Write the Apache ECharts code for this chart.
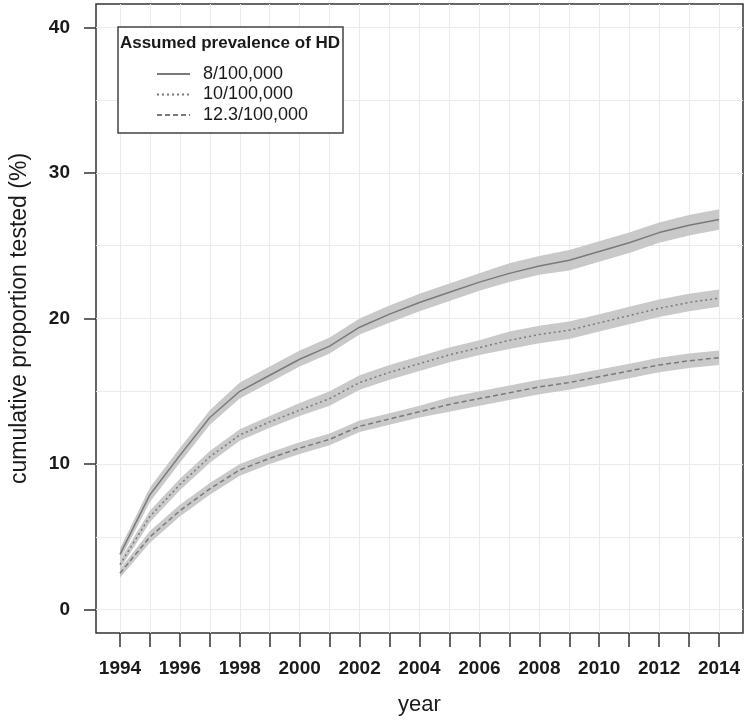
<!DOCTYPE html>
<html><head><meta charset="utf-8">
<script src="https://cdn.jsdelivr.net/npm/echarts@6/dist/echarts.min.js"></script>
<style>html,body{margin:0;padding:0;background:#fff}#c{width:748px;height:721px}</style>
</head><body><div id="c"></div>
<script>
// ---- data ----
const years = [1994,1995,1996,1997,1998,1999,2000,2001,2002,2003,2004,2005,2006,2007,2008,2009,2010,2011,2012,2013,2014];
const xLabelYears = [1994,1996,1998,2000,2002,2004,2006,2008,2010,2012,2014];
const yTickValues = [0,10,20,30,40];
const yGridValues = [0,5,10,15,20,25,30,35,40];
const seriesNames = ['8/100,000','10/100,000','12.3/100,000'];

const est8  = [3.8,7.9,10.6,13.2,15.0,16.1,17.2,18.1,19.4,20.3,21.1,21.8,22.5,23.1,23.6,24.0,24.6,25.2,25.9,26.4,26.8];
const low8  = [3.4,7.4,10.1,12.7,14.5,15.6,16.7,17.6,18.9,19.7,20.5,21.2,21.9,22.5,23.0,23.3,23.9,24.5,25.2,25.7,26.1];
const high8 = [4.2,8.4,11.1,13.7,15.6,16.7,17.8,18.7,20.0,20.9,21.7,22.4,23.1,23.8,24.3,24.7,25.3,25.9,26.6,27.1,27.5];

const est10  = [3.1,6.4,8.6,10.5,12.0,12.9,13.7,14.5,15.6,16.3,16.9,17.5,18.0,18.5,18.9,19.2,19.7,20.2,20.7,21.1,21.4];
const low10  = [2.8,6.0,8.2,10.1,11.6,12.5,13.3,14.0,15.1,15.8,16.4,17.0,17.5,17.9,18.3,18.6,19.1,19.6,20.1,20.5,20.8];
const high10 = [3.4,6.8,9.0,10.9,12.4,13.3,14.2,15.0,16.1,16.8,17.4,18.0,18.5,19.1,19.5,19.8,20.3,20.8,21.3,21.7,22.0];

const est12  = [2.5,5.0,6.8,8.3,9.6,10.4,11.1,11.7,12.6,13.1,13.6,14.1,14.5,14.9,15.3,15.6,16.0,16.4,16.8,17.1,17.3];
const low12  = [2.2,4.6,6.4,7.9,9.2,10.0,10.7,11.3,12.2,12.7,13.2,13.6,14.0,14.4,14.8,15.1,15.5,15.9,16.3,16.6,16.8];
const high12 = [2.8,5.4,7.2,8.7,10.0,10.8,11.5,12.1,13.0,13.5,14.0,14.6,15.0,15.4,15.8,16.1,16.5,16.9,17.3,17.6,17.8];

// ---- build ----
const pairs = arr => years.map((y, i) => [y, arr[i]]);
const FONT = '"Liberation Sans", Arial, Helvetica, sans-serif';
const bandColor = '#c9c9c9';
const lineColor = '#7a7a7a';

function band(lo, hi) {
  return {
    type: 'custom', silent: true, z: 2,
    data: years.map((y, i) => [y, lo[i], hi[i]]),
    encode: { x: 0, y: [1, 2] },
    renderItem: (params, api) => {
      if (params.dataIndex !== 0) return;
      const pts = [];
      for (let i = 0; i < years.length; i++) pts.push(api.coord([years[i], hi[i]]));
      for (let i = years.length - 1; i >= 0; i--) pts.push(api.coord([years[i], lo[i]]));
      return { type: 'polygon', shape: { points: pts }, style: { fill: bandColor } };
    }
  };
}
function mainLine(name, est, dash, withGrid) {
  const s = {
    name, type: 'line', symbol: 'none', showSymbol: false, data: pairs(est), z: 3,
    itemStyle: { color: lineColor },
    lineStyle: { color: lineColor, width: 1.5, type: dash }
  };
  if (withGrid) {
    s.markLine = {
      silent: true, symbol: 'none', z: 1, animation: false,
      label: { show: false },
      lineStyle: { color: '#ebebeb', width: 1, type: 'solid' },
      data: years.map(y => ({ xAxis: y })).concat(yGridValues.map(v => ({ yAxis: v })))
    };
  }
  return s;
}

const chart = echarts.init(document.getElementById('c'), null, { renderer: 'canvas' });
chart.setOption({
  animation: false,
  backgroundColor: '#fff',
  grid: { left: 94, right: 5, top: 4, bottom: 84, show: true, borderColor: '#333', borderWidth: 1.5, backgroundColor: 'transparent' },
  xAxis: {
    type: 'value', min: 1993.2, max: 2014.8,
    name: 'year', nameLocation: 'middle', nameGap: 61,
    nameTextStyle: { fontFamily: FONT, fontSize: 22, color: '#1a1a1a' },
    axisLine: { show: false, onZero: false },
    axisTick: { show: true, customValues: years, length: 14, lineStyle: { color: '#333', width: 1.5 } },
    axisLabel: { customValues: xLabelYears, margin: 26, fontFamily: FONT, fontSize: 19, fontWeight: 'bold', color: '#1a1a1a', formatter: v => String(v) },
    splitLine: { show: false }
  },
  yAxis: {
    type: 'value', min: -1.6, max: 41.6,
    name: 'cumulative proportion tested (%)', nameLocation: 'middle', nameGap: 65,
    nameTextStyle: { fontFamily: FONT, fontSize: 23, color: '#1a1a1a' },
    axisLine: { show: false, onZero: false },
    axisTick: { show: true, customValues: yTickValues, length: 12, lineStyle: { color: '#333', width: 1.5 } },
    axisLabel: { customValues: yTickValues, margin: 26, fontFamily: FONT, fontSize: 19, fontWeight: 'bold', color: '#1a1a1a' },
    splitLine: { show: false }
  },
  legend: {
    data: seriesNames, orient: 'vertical', left: 151, top: 59, z: 10,
    itemWidth: 33, itemHeight: 10, itemGap: 0.5,
    itemStyle: { opacity: 0 },
    textStyle: { fontFamily: FONT, fontSize: 18, color: '#1a1a1a', lineHeight: 20, padding: [0, 0, 0, 8] },
    selectedMode: false
  },
  graphic: [
    { type: 'rect', z: 8, shape: { x: 118, y: 27, width: 225, height: 106 }, style: { fill: '#fff', stroke: '#444', lineWidth: 1.5 } },
    { type: 'text', z: 10, x: 230, y: 43, style: { text: 'Assumed prevalence of HD', font: 'bold 17px ' + FONT, fill: '#1a1a1a', textAlign: 'center', textVerticalAlign: 'middle' } }
  ],
  series: [
    band(low8, high8),
    band(low10, high10),
    band(low12, high12),
    mainLine(seriesNames[0], est8, 'solid', true),
    mainLine(seriesNames[1], est10, [2, 3], false),
    mainLine(seriesNames[2], est12, [5, 3], false)
  ]
});
</script>
</body></html>
